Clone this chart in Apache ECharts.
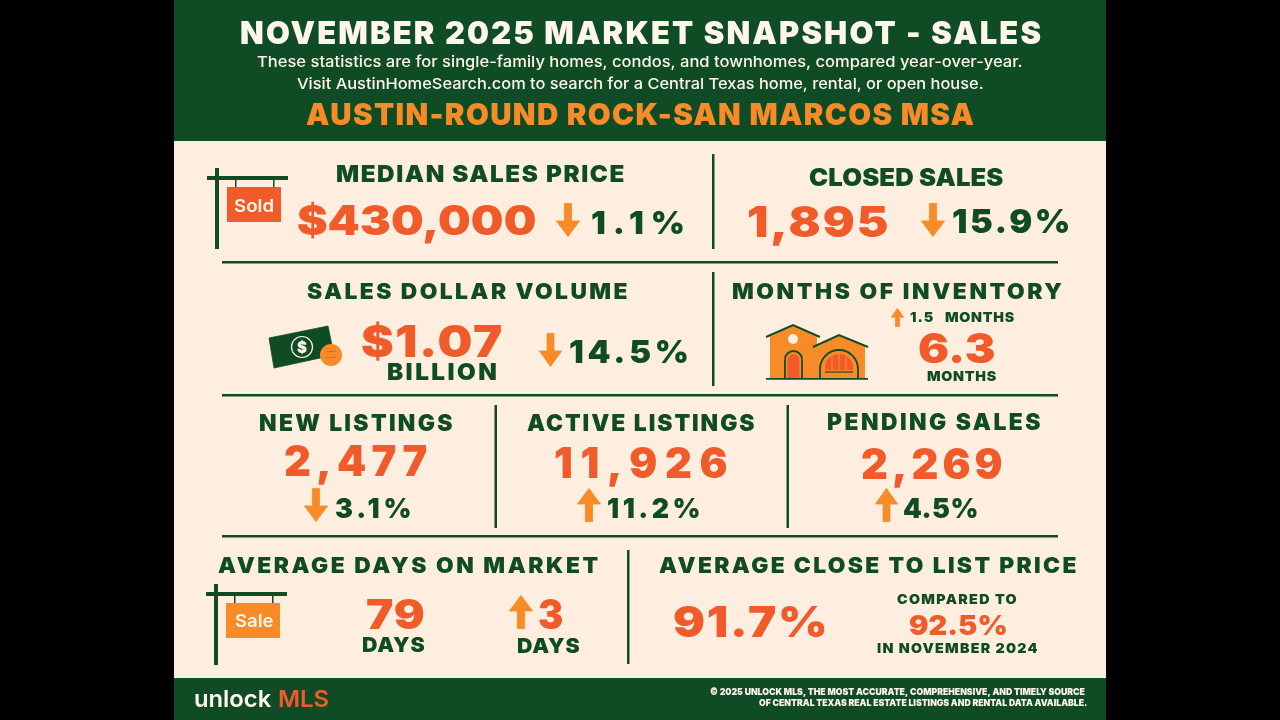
<!DOCTYPE html>
<html>
<head>
<meta charset="utf-8">
<title>November 2025 Market Snapshot</title>
<script src="https://cdn.jsdelivr.net/npm/echarts@6/dist/echarts.min.js"></script>
<style>html,body{margin:0;padding:0;background:#000}#chart{width:1280px;height:720px}</style>
</head>
<body>
<div id="chart"></div>
<script>
// text and values
var headerLines = ["NOVEMBER 2025 MARKET SNAPSHOT - SALES",
  "These statistics are for single-family homes, condos, and townhomes, compared year-over-year.",
  "Visit AustinHomeSearch.com to search for a Central Texas home, rental, or open house.",
  "AUSTIN-ROUND ROCK-SAN MARCOS MSA"];
var metricTitles = ["MEDIAN SALES PRICE","CLOSED SALES","SALES DOLLAR VOLUME","MONTHS OF INVENTORY",
  "NEW LISTINGS","ACTIVE LISTINGS","PENDING SALES","AVERAGE DAYS ON MARKET","AVERAGE CLOSE TO LIST PRICE"];
var metricValues = ["$430,000","1,895","$1.07","6.3","2,477","11,926","2,269","79","91.7%"];
var metricChanges = ["1.1%","15.9%","14.5%","1.5","3.1%","11.2%","4.5%","3"];
var unitLabels = ["BILLION","MONTHS","MONTHS","DAYS","DAYS"];
var compareLabels = ["COMPARED TO","92.5%","IN NOVEMBER 2024"];
var signLabels = ["Sold","Sale"];
var logoWords = ["unlock","MLS"];
var footerLines = ["© 2025 UNLOCK MLS, THE MOST ACCURATE, COMPREHENSIVE, AND TIMELY SOURCE",
  "OF CENTRAL TEXAS REAL ESTATE LISTINGS AND RENTAL DATA AVAILABLE."];

var GREEN = "#0f4c26", RED = "#f15a29", ORANGE = "#f68b28", CREAM = "#fdeee0", WHITE = "#fff6ea";
var HEAVY = {family:"Inter", weight:"900", wide:1.04, track:true};    // section titles and changes
var WIDE = {family:"Inter", weight:"900", wide:1.12, track:true};     // the big numbers
var TALL = {family:"Inter", weight:"900", wide:0.98, track:true};     // banner and row 3, squeezed in the source
var BODY = {family:"Inter", weight:"500"};
var SEMI = {family:"Inter", weight:"600"};

// zrender has no letter spacing option, so set it on the context per string
var tracking = {};
var nativeFill = CanvasRenderingContext2D.prototype.fillText;
CanvasRenderingContext2D.prototype.fillText = function(t, x, y, w){
  this.letterSpacing = (tracking[t] || 0) + "px";
  if(w === undefined){ nativeFill.call(this, t, x, y); }else{ nativeFill.call(this, t, x, y, w); }
};

var measure = document.createElement("canvas").getContext("2d");
var items = [];

function inkWidth(m){ return m.actualBoundingBoxRight + m.actualBoundingBoxLeft; }

// place a string so its ink fills left..right and its capitals fill top..bottom
function fit(str, left, right, top, bottom, color, font){
  font = font || HEAVY;
  measure.letterSpacing = "0px";
  measure.textBaseline = "alphabetic";
  measure.font = font.weight + " 100px " + font.family;
  var size = (bottom - top) / (measure.measureText("H").actualBoundingBoxAscent / 100);
  var cssFont = font.weight + " " + size + "px " + font.family;
  measure.font = cssFont;
  var m = measure.measureText(str);
  var sx = (right - left) / inkWidth(m);
  if(font.track && str.length > 1 && sx > font.wide){
    sx = font.wide;
    var want = (right - left) / sx;
    var gap = (want - inkWidth(m)) / (str.length - 1);
    // kerning drops once spacing is on, so measure again with it
    measure.letterSpacing = gap + "px";
    gap += (want - inkWidth(measure.measureText(str))) / (str.length - 1);
    measure.letterSpacing = "0px";
    tracking[str] = gap;
  }
  measure.textBaseline = "middle";
  var h = measure.measureText("H");
  items.push({
    type:"text", silent:true, z:5,
    x: left + m.actualBoundingBoxLeft * sx,
    y: (top + bottom) / 2 - (h.actualBoundingBoxDescent - h.actualBoundingBoxAscent) / 2,
    scaleX: sx,
    style:{text:str, font:cssFont, fill:color, align:"left", verticalAlign:"middle"}
  });
}
function box(x, y, w, h, color){
  items.push({type:"rect", silent:true, z:1, shape:{x:x, y:y, width:w, height:h}, style:{fill:color}});
}
function poly(points, color){
  items.push({type:"polygon", silent:true, z:2, shape:{points:points}, style:{fill:color, stroke:color, lineWidth:0.8, lineJoin:"round"}});
}
function stroke(points, color, lw){
  items.push({type:"polyline", silent:true, z:4, shape:{points:points}, style:{stroke:color, lineWidth:lw, fill:null}});
}
function dot(cx, cy, r, fill, line, lw){
  items.push({type:"circle", silent:true, z:3, shape:{cx:cx, cy:cy, r:r}, style:{fill:fill, stroke:line, lineWidth:lw || 0}});
}
// arched opening: filled body with a half round top and an optional green outline
function arch(x0, x1, yTop, yBase, fill, line){
  var r = (x1 - x0) / 2, c = (x0 + x1) / 2;
  items.push({type:"rect", silent:true, z:3, shape:{x:x0, y:yTop + r, width:x1 - x0, height:yBase - yTop - r}, style:{fill:fill}});
  items.push({type:"sector", silent:true, z:3, shape:{cx:c, cy:yTop + r, r:r, r0:0, startAngle:Math.PI, endAngle:Math.PI * 2, clockwise:true}, style:{fill:fill}});
  if(line){
    items.push({type:"arc", silent:true, z:4, shape:{cx:c, cy:yTop + r, r:r, startAngle:Math.PI, endAngle:Math.PI * 2, clockwise:true}, style:{stroke:line, lineWidth:1.8, fill:null}});
    stroke([[x0, yTop + r],[x0, yBase]], line, 1.8);
    stroke([[x1, yTop + r],[x1, yBase]], line, 1.8);
  }
}
function arrow(x0, x1, y0, y1, up){
  var c = (x0 + x1) / 2, w = (x1 - x0), s = w * 0.15, head = (y1 - y0) * 0.46;
  x0 += 0.4; x1 -= 0.4; y0 += 0.4; y1 -= 0.4;
  var p = up
    ? [[c,y0],[x1,y0+head],[c+s,y0+head],[c+s,y1],[c-s,y1],[c-s,y0+head],[x0,y0+head]]
    : [[c,y1],[x1,y1-head],[c+s,y1-head],[c+s,y0],[c-s,y0],[c-s,y1-head],[x0,y1-head]];
  poly(p, ORANGE);
}
function post(px, barY, signX, signColor){
  box(px, barY - 8, 4, 81, GREEN);
  box(px - 8, barY, 81, 4, GREEN);
  box(signX + 8, barY + 4, 1.5, 8, GREEN);
  box(signX + 46, barY + 4, 1.5, 8, GREEN);
  box(signX, barY + 11, 54, 35, signColor);
}

// panels
box(174, 0, 932, 720, CREAM);
box(174, 0, 932, 141, GREEN);
box(174, 678, 932, 42, GREEN);

// header
fit(headerLines[0], 241, 1041, 20.5, 43.5, WHITE, TALL);
fit(headerLines[1], 257, 1022, 55.5, 66.5, WHITE, BODY);
fit(headerLines[2], 297, 983, 77.5, 88.5, WHITE, BODY);
fit(headerLines[3], 306, 974, 103, 125, ORANGE, TALL);

// rules
box(222, 261, 836, 2.5, GREEN);
box(222, 394, 836, 2.5, GREEN);
box(222, 535, 836, 2.5, GREEN);
box(712, 154, 2.5, 95, GREEN);
box(712, 272, 2.5, 114, GREEN);
box(494.5, 405, 2.5, 123, GREEN);
box(786.5, 405, 2.5, 123, GREEN);
box(627, 550, 2.5, 114, GREEN);

// row 1
post(215, 176, 227, RED);
fit(signLabels[0], 234, 273, 199, 212, WHITE, SEMI);
fit(metricTitles[0], 337, 624, 165, 182, GREEN);
fit(metricValues[0], 298, 535, 205, 235, RED, WIDE);
arrow(556, 580, 203, 237, false);
fit(metricChanges[0], 592, 683, 211, 234, GREEN);

fit(metricTitles[1], 809, 1003, 168, 186, GREEN);
fit(metricValues[1], 748, 887, 206, 237, RED, WIDE);
arrow(921, 945, 203, 237, false);
fit(metricChanges[1], 953, 1068, 209, 233, GREEN);

// row 2
fit(metricTitles[2], 307, 627, 283, 299, GREEN);
poly([[269,338],[328,326],[334,355],[274,368]], GREEN);
dot(302, 347, 10.5, GREEN, WHITE, 1.2);
fit("$", 297, 307, 341, 353, WHITE);
dot(331, 355, 11, ORANGE);
stroke([[326,352],[336,351]], RED, 1);
stroke([[326,358],[336,357]], RED, 1);
fit(metricValues[2], 362, 501, 325, 357, RED, WIDE);
fit(unitLabels[0], 388, 496, 363, 380, GREEN);
arrow(539, 562, 333, 367, false);
fit(metricChanges[2], 570, 687, 340, 363, GREEN);

fit(metricTitles[3], 733, 1062, 283, 299, GREEN);
// house
box(770, 337, 47, 41, ORANGE);
box(817, 347, 48, 31, ORANGE);
poly([[793,325],[770,337],[817,337]], ORANGE);
poly([[839,335],[817,347],[865,347]], ORANGE);
stroke([[766,337],[793,325],[820,337]], GREEN, 2);
stroke([[813,347],[839,335],[868,347]], GREEN, 2);
box(766, 378, 102, 1.8, GREEN);
dot(793, 339, 5, CREAM);
arch(785, 802, 351, 378, ORANGE, GREEN);
arch(787.5, 799.5, 354, 378, RED);
arch(820, 858, 350, 378, ORANGE, GREEN);
arch(825, 853, 354, 370, RED);
stroke([[832,355],[832,370]], ORANGE, 1.2);
stroke([[839,353],[839,370]], ORANGE, 1.2);
stroke([[846,355],[846,370]], ORANGE, 1.2);
stroke([[825,372],[853,372]], GREEN, 1.2);
arrow(891, 904, 308, 327, true);
fit(metricChanges[3], 910, 933, 312, 322, GREEN);
fit(unitLabels[1], 945, 1015, 312, 322, GREEN);
fit(metricValues[3], 919, 995, 333, 363, RED, WIDE);
fit(unitLabels[2], 927, 996, 371, 381, GREEN);

// row 3
fit(metricTitles[4], 260, 452, 414, 431, GREEN, TALL);
fit(metricValues[4], 285, 427, 445, 476, RED, TALL);
arrow(304, 328, 488, 522, false);
fit(metricChanges[4], 336, 410, 498, 518, GREEN, TALL);

fit(metricTitles[5], 527, 754, 414, 431, GREEN, TALL);
fit(metricValues[5], 555, 727, 447, 478, RED, TALL);
arrow(577, 601, 488, 522, true);
fit(metricChanges[5], 608, 699, 498, 518, GREEN, TALL);

fit(metricTitles[6], 828, 1040, 413, 430, GREEN, TALL);
fit(metricValues[6], 862, 1002, 448, 479, RED, TALL);
arrow(875, 898, 488, 522, true);
fit(metricChanges[6], 904, 977, 498, 518, GREEN, TALL);

// row 4
post(214, 592, 226, ORANGE);
fit(signLabels[1], 235, 273, 614, 627, WHITE, SEMI);
fit(metricTitles[7], 218, 598, 557, 573, GREEN);
fit(metricValues[7], 367, 424, 599, 629, RED, WIDE);
fit(unitLabels[3], 362, 424, 637, 652, GREEN);
arrow(509, 533, 595, 629, true);
fit(metricChanges[7], 539, 563, 599, 629, RED, WIDE);
fit(unitLabels[4], 517, 580, 638, 653, GREEN);

fit(metricTitles[8], 659, 1076, 557, 573, GREEN);
fit(metricValues[8], 674, 825, 606, 637, RED, WIDE);
fit(compareLabels[0], 897, 1017, 594, 604, GREEN);
fit(compareLabels[1], 909, 1006, 615, 635, RED, WIDE);
fit(compareLabels[2], 877, 1038, 643, 653, GREEN);

// footer
fit(logoWords[0], 195, 272, 690, 707, WHITE, SEMI);
fit(logoWords[1], 279, 329, 690, 707, RED, SEMI);
fit(footerLines[0], 710, 1085, 688, 695, WHITE);
fit(footerLines[1], 759, 1087, 699, 705.5, WHITE);

var myChart = echarts.init(document.getElementById("chart"));
myChart.setOption({
  backgroundColor:"#000",
  animation:false,
  graphic:{elements:items}
});
</script>
</body>
</html>
